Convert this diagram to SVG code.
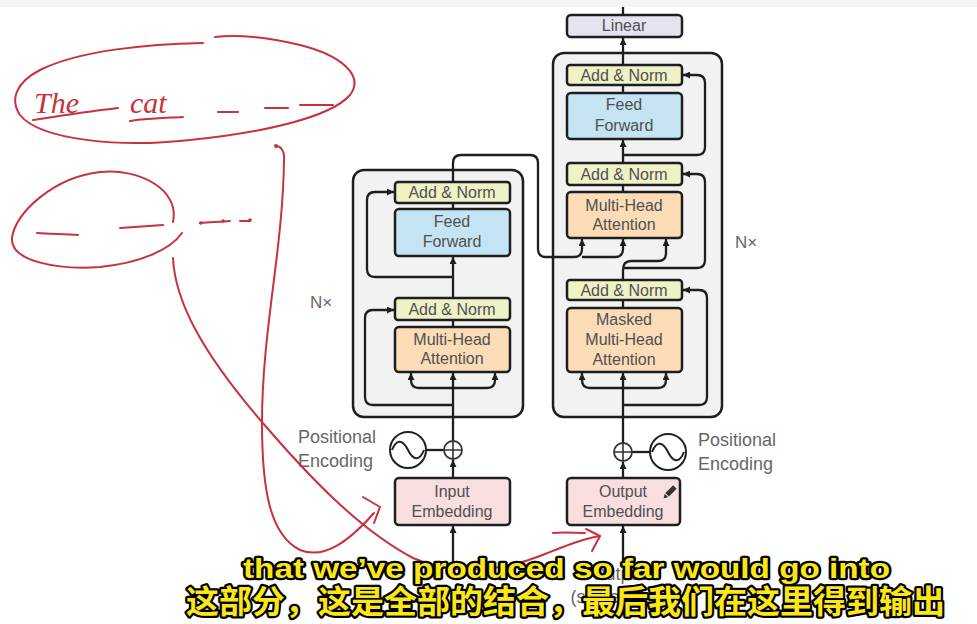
<svg xmlns="http://www.w3.org/2000/svg" width="977" height="624" viewBox="0 0 977 624">
<defs>
<marker id="ah" viewBox="0 0 10 10" refX="10" refY="5" markerWidth="8" markerHeight="7" markerUnits="userSpaceOnUse" orient="auto"><path d="M0,0 L10,5 L0,10 z" fill="#1e1e1e"/></marker>
<style>
.blk{fill:#f2f2f2;stroke:#1e1e1e;stroke-width:2.5}
.box{stroke:#1e1e1e;stroke-width:2.5}
.an{fill:#eef2c6}
.ff{fill:#c4e4f4}
.mha{fill:#fbdcb6}
.emb{fill:#f9dedf}
.lin{fill:#e4e3f0}
.t{font-family:"Liberation Sans",Arial,sans-serif;font-size:16px;fill:#505050;text-anchor:middle}
.lbl{font-family:"Liberation Sans",Arial,sans-serif;font-size:18px;fill:#666}
.ln{fill:none;stroke:#1e1e1e;stroke-width:2.3}
.red{fill:none;stroke:#c8323c;stroke-width:2;stroke-linecap:round;stroke-linejoin:round}
.sub{font-weight:bold;fill:#fbe715;stroke:#000;stroke-width:4.5;paint-order:stroke fill;stroke-linejoin:round}
</style>
</defs>
<rect x="0" y="0" width="977" height="624" fill="#ffffff"/>
<rect x="0" y="0" width="977" height="7" fill="#f4f4f4"/>

<!-- labels partly hidden below subtitles -->
<g id="bottom-labels" class="lbl" text-anchor="middle">
<text x="623" y="580">Outputs</text>
<text x="623" y="603">(shifted right)</text>
</g>

<!-- block backgrounds -->
<g id="encoder-block"><rect class="blk" x="353" y="170" width="170" height="247" rx="11"/></g>
<g id="decoder-block"><rect class="blk" x="553" y="53" width="169" height="364" rx="11"/></g>

<!-- connectors -->
<g id="connectors">
<path class="ln" d="M623,7 V15"/>
<path class="ln" d="M623,65 V38" marker-end="url(#ah)"/>
<path class="ln" d="M623,93 V85"/>
<path class="ln" d="M623,163 V140" marker-end="url(#ah)"/>
<path class="ln" d="M623,155 H697 Q705,155 705,147 V83 Q705,75 697,75 H683" marker-end="url(#ah)"/>
<path class="ln" d="M623,192 V185"/>
<path class="ln" d="M623,280 V270 Q623,261 631,261 H658 Q666,261 666,253 V239" marker-end="url(#ah)"/>
<path class="ln" d="M623,268 H697 Q705,268 705,260 V182 Q705,174 697,174 H683" marker-end="url(#ah)"/>
<path class="ln" d="M623,308 V300"/>
<path class="ln" d="M623,443 V373" marker-end="url(#ah)"/>
<path class="ln" d="M623,405 H699 Q707,405 707,397 V298 Q707,290 699,290 H683" marker-end="url(#ah)"/>
<path class="ln" d="M623,388 H590 Q582,388 582,380 V373" marker-end="url(#ah)"/>
<path class="ln" d="M623,388 H658 Q666,388 666,380 V373" marker-end="url(#ah)"/>
<path class="ln" d="M453,182 V163 Q453,155 461,155 H530 Q538,155 538,163 V249 Q538,257 546,257 H574 Q582,257 582,249 V239" marker-end="url(#ah)"/>
<path class="ln" d="M582,257 H615 Q623,257 623,249 V239" marker-end="url(#ah)"/>
<path class="ln" d="M453,209 V203"/>
<path class="ln" d="M453,298 V257" marker-end="url(#ah)"/>
<path class="ln" d="M453,277 H375 Q367,277 367,269 V200 Q367,192 375,192 H394" marker-end="url(#ah)"/>
<path class="ln" d="M453,327 V320"/>
<path class="ln" d="M453,441 V373" marker-end="url(#ah)"/>
<path class="ln" d="M453,405 H373 Q365,405 365,397 V318 Q365,310 373,310 H394" marker-end="url(#ah)"/>
<path class="ln" d="M453,388 H419 Q411,388 411,380 V373" marker-end="url(#ah)"/>
<path class="ln" d="M453,388 H487 Q495,388 495,380 V373" marker-end="url(#ah)"/>
<path class="ln" d="M453,478 V460" marker-end="url(#ah)"/>
<path class="ln" d="M623,478 V462" marker-end="url(#ah)"/>
<path class="ln" d="M453,565 V526" marker-end="url(#ah)"/>
<path class="ln" d="M623,565 V526" marker-end="url(#ah)"/>
<path class="ln" d="M426,450 H444"/>
<path class="ln" d="M632,452 H650"/>
</g>

<!-- nodes -->
<g id="linear"><rect class="box lin" x="567" y="15" width="115" height="22" rx="4"/><text class="t" x="624" y="31" font-size="15">Linear</text></g>
<g id="dec-addnorm3"><rect class="box an" x="567" y="65" width="115" height="20" rx="3"/><text class="t" x="624" y="81">Add &amp; Norm</text></g>
<g id="dec-ff"><rect class="box ff" x="567" y="93" width="115" height="46" rx="4"/><text class="t" x="624" y="110">Feed</text><text class="t" x="624" y="131">Forward</text></g>
<g id="dec-addnorm2"><rect class="box an" x="567" y="163" width="115" height="22" rx="3"/><text class="t" x="624" y="180">Add &amp; Norm</text></g>
<g id="dec-mha"><rect class="box mha" x="567" y="192" width="115" height="46" rx="4"/><text class="t" x="624" y="211">Multi-Head</text><text class="t" x="624" y="230">Attention</text></g>
<g id="dec-addnorm1"><rect class="box an" x="567" y="280" width="115" height="20" rx="3"/><text class="t" x="624" y="296">Add &amp; Norm</text></g>
<g id="dec-masked"><rect class="box mha" x="567" y="308" width="115" height="64" rx="4"/><text class="t" x="624" y="325">Masked</text><text class="t" x="624" y="345">Multi-Head</text><text class="t" x="624" y="365">Attention</text></g>

<g id="enc-addnorm2"><rect class="box an" x="395" y="182" width="115" height="21" rx="3"/><text class="t" x="452" y="198">Add &amp; Norm</text></g>
<g id="enc-ff"><rect class="box ff" x="395" y="209" width="115" height="47" rx="4"/><text class="t" x="452" y="227">Feed</text><text class="t" x="452" y="247">Forward</text></g>
<g id="enc-addnorm1"><rect class="box an" x="395" y="298" width="115" height="22" rx="3"/><text class="t" x="452" y="315">Add &amp; Norm</text></g>
<g id="enc-mha"><rect class="box mha" x="395" y="327" width="115" height="45" rx="4"/><text class="t" x="452" y="345">Multi-Head</text><text class="t" x="452" y="364">Attention</text></g>

<g id="input-embedding"><rect class="box emb" x="395" y="478" width="115" height="47" rx="4"/><text class="t" x="452" y="497">Input</text><text class="t" x="452" y="517">Embedding</text></g>
<g id="output-embedding"><rect class="box emb" x="567" y="478" width="113" height="47" rx="4"/><text class="t" x="623" y="497">Output</text><text class="t" x="623" y="517">Embedding</text>
<g transform="translate(670,492) rotate(45)" fill="#333"><rect x="-2.5" y="-7" width="5" height="11"/><path d="M-2.5,5 L2.5,5 L0,9 z"/></g></g>

<g id="enc-posenc">
<circle cx="453" cy="450" r="9" fill="#fff" stroke="#333" stroke-width="1.8"/>
<path d="M444,450 H462 M453,441 V459" stroke="#333" stroke-width="1.6"/>
<circle cx="408" cy="450" r="18" fill="#fff" stroke="#222" stroke-width="2"/>
<path d="M392,450 C396,440 402,438 408,450 C414,462 420,460 424,450" fill="none" stroke="#222" stroke-width="2"/>
<text class="lbl" x="298" y="443">Positional</text><text class="lbl" x="298" y="467">Encoding</text>
</g>
<g id="dec-posenc">
<circle cx="623" cy="452" r="9" fill="#fff" stroke="#333" stroke-width="1.8"/>
<path d="M614,452 H632 M623,443 V461" stroke="#333" stroke-width="1.6"/>
<circle cx="668" cy="452" r="18" fill="#fff" stroke="#222" stroke-width="2"/>
<path d="M652,452 C656,442 662,440 668,452 C674,464 680,462 684,452" fill="none" stroke="#222" stroke-width="2"/>
<text class="lbl" x="698" y="446">Positional</text><text class="lbl" x="698" y="470">Encoding</text>
</g>
<g id="nx-labels" class="lbl"><text x="310" y="308" style="font-size:17px">N×</text><text x="735" y="248" style="font-size:17px">N×</text></g>

<!-- red handwriting annotations -->
<g id="annotations">
<path class="red" d="M203,43 C150,44 80,50 40,70 C15,83 10,100 20,115 C40,140 120,148 190,140 C260,133 330,118 350,95 C365,75 340,55 300,45 C270,38 240,34 215,37"/>
<text x="34" y="113" font-family="'Liberation Serif',serif" font-style="italic" font-size="30" fill="#c8323c">The</text>
<text x="130" y="113" font-family="'Liberation Serif',serif" font-style="italic" font-size="30" fill="#c8323c">cat</text>
<path class="red" d="M33,120 C60,116 90,111 118,108 M130,121 C150,118 165,118 183,117 M218,112 H238 M265,108 H288 M300,105 H333"/>
<path class="red" d="M173,222 C180,190 140,168 100,172 C55,177 15,212 12,238 C10,262 60,270 100,267 C140,263 170,250 182,233"/>
<path class="red" d="M37,233 C50,234 65,234 78,235 M120,228 C135,227 150,226 163,225 M200,223 C210,222 220,222 230,221 M240,221 H250"/>
<circle cx="201" cy="223" r="1.8" fill="#c8323c"/><circle cx="223" cy="221" r="1.8" fill="#c8323c"/><circle cx="250" cy="220" r="1.8" fill="#c8323c"/>
<circle cx="276" cy="146" r="2" fill="#c8323c"/>
<path class="red" d="M276,146 C280,146 285,150 284,160 C283,250 262,330 262,423 C262,490 270,535 300,550 C325,560 350,540 374,513"/>
<path class="red" d="M363,497 L380,507 L374,523"/>
<path class="red" d="M173,258 C175,300 200,350 262,422 C310,478 360,530 413,558 C450,575 500,572 540,556 C565,546 585,538 600,536"/>
<path class="red" d="M553,533 C565,532 575,533 585,533 M586,529 L600,536 L592,551"/>
</g>

<!-- subtitles -->
<g id="subtitles">
<text class="sub" x="243" y="578" font-family="'Liberation Sans',Arial,sans-serif" font-size="28" textLength="647" lengthAdjust="spacingAndGlyphs">that we’ve produced so far would go into</text>
<text class="sub" x="186" y="613" font-family="'Noto Sans CJK SC','Noto Sans',sans-serif" font-size="32" textLength="759" lengthAdjust="spacingAndGlyphs">这部分，这是全部的结合，最后我们在这里得到输出</text>
</g>
</svg>
